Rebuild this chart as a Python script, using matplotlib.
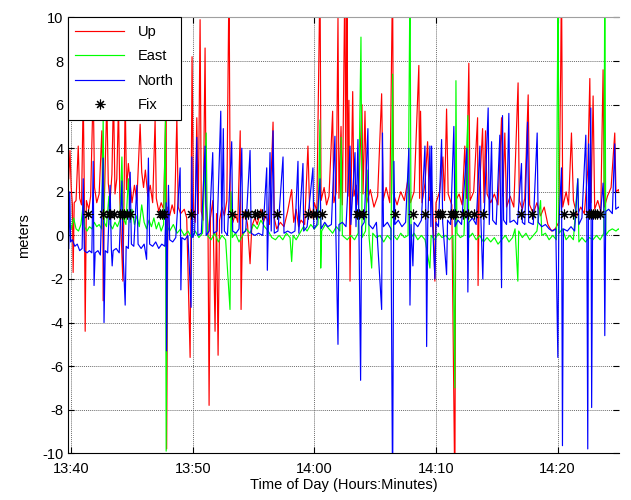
import numpy as np
import matplotlib
matplotlib.use("Agg")
import matplotlib.pyplot as plt
from matplotlib.ticker import FuncFormatter

# minutes after 13:40, meters
up_pts = [
    (-0.2, 2.6), (-0.1, 3.9), (0.0, 2.2), (0.1, 1.4), (0.16, -1.7), (0.25, 1.5), (0.4, 1.6), (0.58, 4.1),
    (0.7, 1.7), (0.85, 1.4), (0.99, 6.5), (1.08, 2.0), (1.15, -4.4), (1.25, 1.6), (1.45, 1.2), (1.6, 1.8),
    (1.81, 6.8), (1.92, 2.2), (2.1, 1.5), (2.3, 1.9), (2.52, 4.8), (2.6, 1.6), (2.63, -3.0), (2.72, 1.4),
    (2.93, 6.2), (3.05, 2.4), (3.2, 1.6), (3.35, 2.8), (3.48, 6.6), (3.6, 1.9), (3.75, 2.6), (3.89, 6.0),
    (4.0, 1.7), (4.25, -2.1), (4.35, 1.8), (4.44, 6.4), (4.55, 2.1), (4.7, 3.3), (4.85, 2.4), (5.0, 1.5),
    (5.2, 2.3), (5.4, 1.6), (5.67, 5.1), (5.8, 2.9), (5.95, 2.2), (6.1, 3.0), (6.3, 1.8), (6.5, 2.3),
    (6.7, 1.5), (6.9, 5.3), (7.0, 1.7), (7.2, 1.1), (7.4, 1.5), (7.6, 1.2), (7.81, 6.5), (7.85, -9.8),
    (7.95, 1.3), (8.1, 0.9), (8.3, 1.4), (8.5, 1.0), (8.69, 5.4), (8.8, 1.3), (9.0, 1.0), (9.3, 1.2),
    (9.5, 0.8), (9.78, -5.6), (9.86, 1.0), (9.94, 8.2), (10.05, 1.2), (10.2, 0.6), (10.33, 5.4), (10.45, 1.0),
    (10.6, 9.9), (10.7, 1.1), (10.85, 0.7), (11.01, 8.6), (11.1, 1.4), (11.25, 0.5), (11.34, -7.8), (11.45, 0.8),
    (11.65, 1.6), (11.83, -4.4), (11.95, 1.0), (12.08, -5.5), (12.2, 0.7), (12.4, 1.3), (12.6, 0.9), (12.8, 1.6),
    (12.98, 12.0), (13.08, 1.2), (13.3, 0.6), (13.5, 1.0), (13.7, 0.6), (13.9, 4.8), (13.97, -3.4), (14.1, 0.7),
    (14.3, 1.1), (14.5, 0.5), (14.71, -1.3), (14.85, 0.4), (15.1, 0.8), (15.3, 0.5), (15.6, 1.2), (15.8, 0.6),
    (16.0, 0.9), (16.3, 0.5), (16.6, 5.2), (16.7, 0.8), (16.9, 0.3), (17.2, 0.6), (17.5, 0.4), (17.8, 1.1),
    (18.13, 2.1), (18.3, 0.6), (18.5, 1.2), (18.7, 0.4), (18.9, 0.7), (19.2, 0.5), (19.47, 4.1), (19.6, 1.3),
    (19.8, 0.8), (20.0, 1.5), (20.2, 1.1), (20.46, 12.0), (20.55, 1.6), (20.8, 2.2), (21.0, 1.4), (21.2, 1.8),
    (21.5, 5.7), (21.6, 1.5), (21.8, 2.0), (21.94, 10.0), (22.02, 1.7), (22.19, 5.0), (22.3, 1.4), (22.51, 12.0),
    (22.58, 2.0), (22.68, 12.0), (22.76, 1.8), (22.84, 6.2), (22.93, -2.1), (23.0, 1.5), (23.15, 6.6), (23.25, 1.8),
    (23.45, 2.3), (23.6, 1.4), (23.91, 6.0), (24.0, 1.9), (24.16, 5.7), (24.3, 1.5), (24.6, 2.1), (24.9, 1.3),
    (25.2, 1.8), (25.53, 6.5), (25.65, 1.6), (25.9, 2.2), (26.2, 1.5), (26.43, 12.0), (26.5, 1.9), (26.8, 1.4),
    (27.1, 2.0), (27.4, 1.6), (27.7, 2.6), (27.9, 1.5), (28.2, 2.0), (28.59, 7.8), (28.65, 1.7), (28.73, 5.7),
    (28.85, 1.5), (29.1, 2.4), (29.31, 4.3), (29.45, 1.6), (29.7, 2.0), (29.91, -2.1), (30.0, 1.5), (30.3, 2.0),
    (30.57, 3.6), (30.7, 1.6), (30.87, 5.8), (31.0, 1.9), (31.3, 1.4), (31.55, -12.0), (31.62, 1.6), (31.9, 1.9),
    (32.15, 1.4), (32.37, 4.1), (32.5, 1.7), (32.7, 7.9), (32.8, 1.6), (33.1, 2.0), (33.42, 5.4), (33.46, -2.3),
    (33.55, 1.8), (33.83, 4.9), (33.95, 1.5), (34.07, 4.8), (34.2, 1.9), (34.5, 1.5), (34.8, 1.9), (35.1, 1.4),
    (35.39, 5.4), (35.5, 1.8), (35.66, 4.7), (35.8, 1.3), (36.1, 1.8), (36.4, 1.3), (36.75, 7.0), (36.85, 1.6),
    (37.1, 1.2), (37.3, 1.7), (37.58, 6.45), (37.7, 1.4), (38.0, 1.0), (38.3, 1.5), (38.6, 0.9), (38.9, 1.3),
    (39.2, 0.5), (39.5, 0.2), (39.8, 0.3), (40.1, 0.6), (40.25, 7.4), (40.32, 12.0), (40.42, 1.3), (40.7, 2.0),
    (40.9, 1.4), (41.14, 4.7), (41.3, 1.6), (41.6, 0.9), (41.9, 1.3), (42.2, 1.0), (42.48, 3.0), (42.65, 7.2),
    (42.75, 1.5), (42.92, 6.4), (43.05, 1.2), (43.3, 1.6), (43.55, 1.1), (43.74, 7.6), (43.85, 1.3), (44.1, 1.8),
    (44.4, 2.2), (44.7, 4.7), (44.8, 2.0), (45.0, 2.1), (45.2, 1.8),
]

east_pts = [
    (-0.2, 0.6), (0.0, 0.3), (0.2, 0.8), (0.4, 0.3), (0.6, 0.2), (0.8, 0.5), (1.0, 1.5), (1.1, 0.4),
    (1.3, 0.2), (1.5, 0.4), (1.7, 0.3), (1.9, 0.6), (2.1, 0.4), (2.3, 0.5), (2.5, 0.3), (2.63, 5.3),
    (2.72, 0.6), (2.9, 0.4), (3.1, 1.8), (3.2, 0.5), (3.4, 0.3), (3.6, 0.6), (3.8, 0.4), (4.0, 0.7),
    (4.17, 3.6), (4.28, 0.8), (4.5, 0.5), (4.7, 2.6), (4.85, 0.6), (5.0, 1.2), (5.2, 0.5), (5.4, 0.9),
    (5.6, 0.4), (5.8, 1.4), (6.0, 0.6), (6.2, 0.3), (6.4, 0.7), (6.6, 0.4), (6.8, 0.8), (7.0, 0.3),
    (7.2, 0.6), (7.4, 0.2), (7.6, 0.5), (7.75, 5.3), (7.81, -9.9), (7.9, 0.4), (8.1, 0.2), (8.4, 0.5),
    (8.7, 0.1), (9.0, 0.3), (9.3, 0.0), (9.6, 0.2), (9.9, -0.1), (10.2, 0.2), (10.5, -0.1), (10.8, 0.1),
    (11.1, 4.7), (11.2, 0.0), (11.5, -0.2), (11.8, 0.1), (12.1, -0.3), (12.4, 0.0), (12.7, -0.2), (13.06, -3.4),
    (13.15, 2.0), (13.25, -0.1), (13.5, 0.1), (13.8, -0.3), (14.1, 0.0), (14.4, 0.3), (14.7, 0.1), (15.0, 0.5),
    (15.3, 0.3), (15.6, 0.7), (15.9, 0.4), (16.2, 0.2), (16.5, -0.1), (16.8, -0.2), (17.1, 0.0), (17.4, -0.2),
    (17.7, 0.1), (18.0, -0.1), (18.13, -1.2), (18.25, 0.0), (18.5, -0.2), (18.8, 0.1), (19.1, 0.4), (19.4, 0.2),
    (19.7, 0.5), (20.0, 0.3), (20.3, 0.5), (20.46, 5.3), (20.52, -1.5), (20.6, 0.2), (20.9, 0.5), (21.2, 0.3),
    (21.5, 0.1), (21.8, 0.4), (22.1, 0.2), (22.2, 4.5), (22.3, 0.0), (22.7, -0.2), (23.0, 0.0), (23.3, -0.2),
    (23.6, 0.1), (23.83, 9.1), (23.92, -0.1), (24.2, 0.2), (24.4, 3.0), (24.5, -0.1), (24.71, -1.5), (24.8, 0.1),
    (25.1, -0.1), (25.4, 0.0), (25.7, -0.3), (26.0, 0.0), (26.3, -0.2), (26.43, 7.4), (26.52, 0.0), (26.8, -0.2),
    (27.1, 0.1), (27.4, -0.1), (27.7, 0.0), (27.86, 12.0), (27.95, -0.1), (28.2, 0.1), (28.5, -0.2), (28.8, 0.0),
    (29.1, -0.2), (29.5, -1.5), (29.6, 0.0), (29.9, -0.2), (30.2, 0.1), (30.5, -0.1), (30.8, 0.0), (31.1, -0.2),
    (31.4, 0.0), (31.55, -7.0), (31.64, 7.1), (31.72, 0.1), (32.0, -0.1), (32.3, 0.0), (32.62, 5.5), (32.7, -0.1),
    (33.0, 0.1), (33.3, -0.2), (33.6, 0.0), (33.9, -0.3), (34.2, -0.1), (34.5, -0.3), (34.8, -0.1), (35.1, -0.4),
    (35.4, -0.2), (35.7, 0.0), (36.0, -0.3), (36.3, -0.1), (36.5, 0.3), (36.73, -2.1), (36.8, 0.2), (37.1, -0.1),
    (37.4, 0.1), (37.7, -0.2), (38.0, 0.0), (38.3, 0.2), (38.6, 1.6), (38.7, 0.0), (39.0, 0.1), (39.3, -0.2),
    (39.6, 0.0), (39.9, -0.2), (40.04, 12.0), (40.12, 0.1), (40.4, 0.3), (40.7, -0.2), (41.0, 0.0), (41.3, -0.2),
    (41.66, 2.6), (41.75, -0.3), (42.0, -0.1), (42.3, -0.3), (42.6, -0.1), (42.9, -0.2), (43.2, 0.0), (43.5, -0.2),
    (43.8, 0.1), (43.88, 12.0), (43.96, 0.0), (44.2, 0.2), (44.5, 0.3), (44.8, 0.2), (45.0, 0.3), (45.2, 0.2),
]

north_pts = [
    (-0.2, -0.6), (-0.12, 2.0), (-0.05, -0.3), (0.1, -0.2), (0.3, -0.5), (0.5, -0.4), (0.7, -0.7), (0.9, -0.6),
    (0.99, 2.6), (1.08, -0.7), (1.3, -0.8), (1.5, -0.7), (1.7, -0.8), (1.81, 3.4), (1.88, -2.3), (1.97, -0.8),
    (2.2, -0.7), (2.4, -0.9), (2.63, 3.55), (2.7, -4.0), (2.8, -0.7), (3.0, -0.8), (3.2, 2.3), (3.3, -0.6),
    (3.37, -1.4), (3.45, -0.7), (3.7, -0.6), (3.95, -0.8), (4.17, 2.5), (4.25, -0.6), (4.44, -3.2), (4.52, -0.5),
    (4.7, -0.6), (4.85, 2.9), (4.95, -0.4), (5.15, -0.5), (5.4, 2.3), (5.5, -0.4), (5.75, -0.6), (6.0, -0.4),
    (6.2, -1.1), (6.35, 3.55), (6.45, -0.4), (6.7, -0.5), (6.95, -0.3), (7.2, -0.6), (7.45, -0.4), (7.7, -0.5),
    (7.81, 1.5), (7.84, -5.3), (7.92, -0.3), (8.0, 2.3), (8.1, -0.2), (8.35, -0.3), (8.6, -0.1), (8.96, 3.1),
    (9.02, -2.5), (9.1, -0.1), (9.35, -0.2), (9.6, 0.0), (9.86, -3.3), (9.92, 3.6), (10.0, -0.1), (10.15, 0.1),
    (10.33, 4.5), (10.42, 0.0), (10.7, 0.1), (11.01, 4.1), (11.1, 0.0), (11.35, 0.2), (11.64, 3.8), (11.72, 0.1),
    (12.0, 0.2), (12.3, 5.7), (12.38, 0.1), (12.51, 4.9), (12.6, 0.2), (12.85, 0.0), (13.2, 4.3), (13.28, 0.2),
    (13.55, 0.1), (13.8, 0.3), (14.03, 4.0), (14.1, 0.1), (14.35, 0.2), (14.71, 3.9), (14.8, 0.1), (15.1, 0.0),
    (15.4, 0.1), (15.75, 0.0), (16.08, 3.1), (16.13, -1.6), (16.2, 0.1), (16.35, 3.8), (16.45, 0.2), (16.6, 4.8),
    (16.7, 0.1), (17.0, 0.2), (17.42, 3.6), (17.5, 0.1), (17.8, 0.2), (18.1, 0.1), (18.4, 0.2), (18.65, 3.4),
    (18.72, 0.1), (19.06, 3.3), (19.12, 0.2), (19.4, 0.4), (19.88, 3.1), (19.95, 0.3), (20.2, 0.5), (20.46, 2.6),
    (20.55, 0.3), (20.85, 0.6), (21.1, 0.4), (21.4, 0.5), (21.69, 4.55), (21.76, 0.3), (21.94, -5.0), (22.02, 0.5),
    (22.3, 0.6), (22.6, 0.4), (22.93, 4.1), (23.0, 0.5), (23.34, 3.8), (23.42, 0.4), (23.58, 4.4), (23.66, 0.5),
    (23.8, -6.65), (23.88, 0.4), (24.1, 0.6), (24.4, 4.9), (24.48, 0.5), (24.8, 0.3), (25.1, 0.6), (25.53, -3.4),
    (25.6, 4.7), (25.68, 0.4), (26.0, 0.6), (26.3, 0.3), (26.43, -12.0), (26.54, 3.4), (26.62, 0.5), (26.9, 0.7),
    (27.2, 0.4), (27.5, 0.6), (27.77, 4.0), (27.86, -3.2), (27.95, 0.5), (28.1, -1.4), (28.2, 0.6), (28.5, 0.4),
    (28.8, 0.7), (29.09, 4.1), (29.18, 0.3), (29.23, -5.1), (29.32, 0.5), (29.5, 4.1), (29.58, 0.4), (29.64, 4.1),
    (29.72, 0.5), (29.91, -2.0), (30.0, 0.6), (30.2, 0.4), (30.46, 4.4), (30.55, 0.6), (30.87, -1.8), (30.95, 0.7),
    (31.2, 0.5), (31.47, 5.0), (31.56, 0.4), (31.8, 0.7), (32.1, 0.5), (32.54, 4.0), (32.62, -2.6), (32.7, 0.6),
    (33.0, 0.8), (33.3, 0.5), (33.61, 4.1), (33.7, 0.6), (33.85, -2.0), (33.95, 0.7), (34.29, 5.85), (34.38, 0.5),
    (34.57, 4.3), (34.66, 0.7), (34.95, 0.5), (35.25, 4.6), (35.32, 0.6), (35.39, -2.4), (35.47, 5.5), (35.56, 0.7),
    (35.8, 0.5), (35.99, 5.6), (36.08, 0.6), (36.4, 0.7), (36.7, 0.5), (37.03, 3.3), (37.1, 0.6), (37.3, 0.5),
    (37.53, 5.2), (37.62, 0.6), (38.0, 0.5), (38.32, 4.7), (38.4, 0.6), (38.7, 0.4), (39.0, 0.5), (39.3, 0.3),
    (39.6, 0.2), (39.85, 0.3), (40.02, -5.6), (40.1, 0.4), (40.32, 3.1), (40.4, -9.65), (40.48, 0.3), (40.8, 0.2),
    (41.1, 0.4), (41.4, 0.2), (41.66, 2.6), (41.75, 0.5), (42.0, 0.8), (42.32, 4.6), (42.4, 0.9), (42.48, -9.8),
    (42.55, 4.2), (42.65, 0.8), (42.73, 5.85), (42.8, -7.9), (42.88, 0.9), (43.2, 1.0), (43.5, 0.8), (43.74, 2.4),
    (43.82, 1.0), (43.88, -4.6), (43.96, 1.1), (44.2, 1.2), (44.5, 1.0), (44.7, 4.2), (44.78, 1.2), (45.0, 1.3),
    (45.2, 1.2),
]

fix_t = [1.37, 2.65, 3.07, 3.2, 3.48, 4.03, 4.15, 4.38, 4.6, 4.85, 7.31, 7.45, 7.67, 9.86,
         13.2, 14.3, 14.5, 15.1, 15.3, 15.67, 16.9, 19.5, 19.9, 20.1, 20.6, 23.5, 23.7, 24.0,
         26.6, 28.1, 29.1, 30.2, 30.3, 30.5, 31.2, 31.4, 31.6, 32.2, 32.6, 33.1, 33.9,
         37.0, 37.9, 40.5, 41.3, 42.6, 42.75, 42.9, 43.05, 43.2, 43.5]
fix_level = 1.0

x_ticks = [0, 10, 20, 30, 40]
x_tick_labels = ["13:40", "13:50", "14:00", "14:10", "14:20"]

plt.rcParams['font.family'] = ['Liberation Sans', 'DejaVu Sans']
plt.rcParams['axes.unicode_minus'] = False

fig = plt.figure(figsize=(6.31, 5.0), dpi=100)
ax = fig.add_axes([0.108, 0.0934, 0.873, 0.8716])

up = np.array(up_pts).T
east = np.array(east_pts).T
north = np.array(north_pts).T

ax.plot(up[0], up[1], color='#ff0000', lw=0.85, label='Up')
ax.plot(east[0], east[1], color='#00ff00', lw=0.85, label='East')
ax.plot(north[0], north[1], color='#0000ff', lw=0.85, label='North')
ax.plot(fix_t, [fix_level] * len(fix_t), linestyle='none', marker=(8, 2, 0),
        markersize=7, color='black', markeredgewidth=0.8, label='Fix')

ax.set_xlim(-0.25, 45.05)
ax.set_ylim(-10, 10)
ax.set_yticks(np.arange(-10, 11, 2))
ax.set_xticks(x_ticks)
ax.xaxis.set_major_formatter(FuncFormatter(lambda v, p: x_tick_labels[x_ticks.index(int(round(v)))]))

ax.grid(True, color='#6e6e6e', linestyle=(0, (1, 1)), linewidth=0.7)
ax.tick_params(direction='in', length=4, width=0.8, top=True, right=True, labelsize=10.5, colors='black')
ax.tick_params(axis='x', pad=6)
ax.spines['right'].set_visible(False)
ax.spines['top'].set_color('#a0a0a0')

ax.set_xlabel('Time of Day (Hours:Minutes)', fontsize=10.5, labelpad=2)
ax.set_ylabel('meters', fontsize=10.5, labelpad=8)

leg = ax.legend(loc='upper left', fontsize=10.5, frameon=True, fancybox=False, borderaxespad=0,
                handlelength=3.3, labelspacing=0.72, borderpad=0.5, handletextpad=1.0)
leg.get_frame().set_edgecolor('black')
leg.get_frame().set_linewidth(0.8)
leg.get_frame().set_alpha(1.0)

fig.savefig('out.png', dpi=100)
